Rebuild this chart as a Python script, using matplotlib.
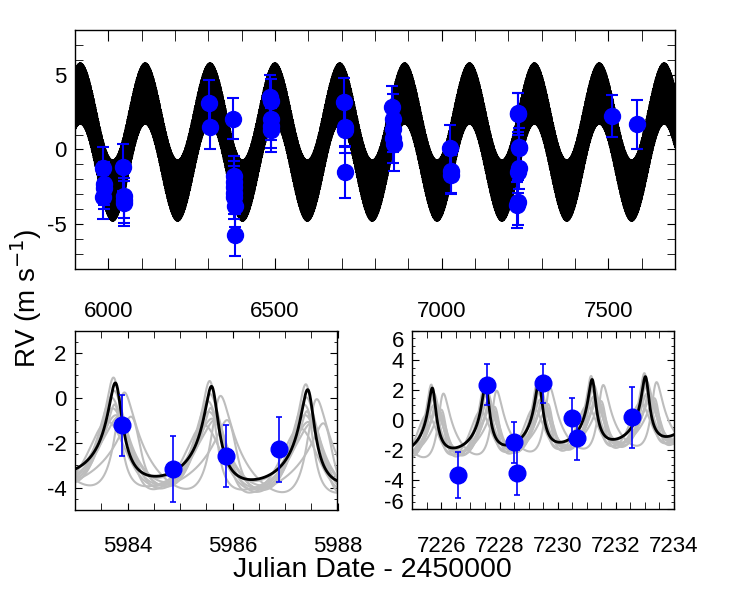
# RV fit of two signals: full time series plus two zoomed nights
import numpy as np
import matplotlib.pyplot as plt
from matplotlib.ticker import MultipleLocator

plt.rcParams['font.family'] = ['Liberation Sans', 'DejaVu Sans']
plt.rcParams['axes.unicode_minus'] = False

# observations (JD - 2450000, RV in m/s, error)
jd_a = [5983.89, 5984.87, 5985.88, 5986.89]
rv_a = [-1.21, -3.19, -2.59, -2.30]
err_a = [1.36, 1.47, 1.39, 1.43]

jd_b = [7226.56, 7227.56, 7228.51, 7228.60, 7229.51, 7230.50, 7230.65, 7232.55]
rv_b = [-3.71, 2.38, -1.51, -3.53, 2.47, 0.11, -1.22, 0.18]
err_b = [1.53, 1.38, 1.37, 1.50, 1.31, 1.35, 1.45, 2.05]

jd_other = [6044.8, 6045.8, 6046.8, 6047.8,
            6301.7, 6303.7,
            6375.1, 6376.0, 6376.6, 6377.2, 6377.8, 6378.4, 6379.0, 6379.6,
            6486.0, 6486.8, 6487.6, 6488.4, 6489.2,
            6708.0, 6709.0, 6710.0, 6711.0,
            6852.0, 6853.0, 6854.0, 6855.0, 6856.0,
            7025.5, 7026.5, 7027.5,
            7510.5, 7586.0]
rv_other = [-1.2, -3.1, -3.4, -3.6,
            3.13, 1.52,
            2.06, -1.8, -2.2, -2.5, -2.9, -3.2, -3.8, -5.7,
            3.53, 3.25, 2.06, 1.57, 1.30,
            3.18, 1.52, 1.28, -1.52,
            2.86, 2.01, 1.34, 0.78, 0.34,
            0.11, -1.45, -1.68,
            2.24, 1.68]
err_other = [1.6, 1.5, 1.5, 1.5,
             1.5, 1.5,
             1.38, 1.35, 1.4, 1.4, 1.4, 1.45, 1.4, 1.4,
             1.45, 1.5, 1.4, 1.45, 1.5,
             1.6, 1.3, 1.5, 1.7,
             1.4, 1.7, 1.5, 1.7, 1.8,
             1.55, 1.45, 1.3,
             1.4, 1.65]

# best fit: long period sinusoid + eccentric short period orbit
gamma = -0.49
P_long, T_long, K_long = 194.6, 5916.0, 3.25
P_short, Tp_short, K_short, e_short, w_short = 1.83174, 5983.79, 2.05, 0.5, 15.0

# posterior samples of the short period orbit (P, Tp, K, e, w, offset)
samp_P = [1.83174, 1.83180, 1.83190, 1.83200, 1.83175, 1.83185, 1.83195, 1.83170, 1.83205, 1.83190]
samp_Tp = [5983.75, 5983.70, 5983.66, 5983.85, 5984.15, 5983.72, 5983.80, 5983.62, 5983.88, 5983.98]
samp_K = [2.2, 1.9, 1.7, 1.6, 1.5, 2.0, 1.8, 1.4, 2.1, 1.6]
samp_e = [0.45, 0.30, 0.25, 0.20, 0.40, 0.35, 0.50, 0.15, 0.40, 0.30]
samp_w = [10, 0, -20, 20, 40, -10, 30, 0, -30, 50]
samp_off = [0.1, -0.1, -0.2, -0.3, -0.4, 0.0, -0.5, -0.3, -0.2, -0.35]


def kepler_rv(t, P, tp, K, e, w):
    M = 2 * np.pi * (t - tp) / P
    E = M.copy()
    for i in range(40):
        E = E - (E - e * np.sin(E) - M) / (1 - e * np.cos(E))
    nu = 2 * np.arctan2(np.sqrt(1 + e) * np.sin(E / 2), np.sqrt(1 - e) * np.cos(E / 2))
    w = np.radians(w)
    return K * (np.cos(nu + w) + e * np.cos(w))


def long_rv(t):
    return K_long * np.cos(2 * np.pi * (t - T_long) / P_long)


def model(t):
    return gamma + long_rv(t) + kepler_rv(t, P_short, Tp_short, K_short, e_short, w_short)


def style(ax, xlen, ylen, xpad):
    ax.tick_params(which='both', direction='in', top=True, right=True, labelsize=16)
    ax.tick_params(axis='x', which='both', length=xlen, pad=xpad)
    ax.tick_params(axis='y', which='both', length=ylen, pad=6)
    for s in ax.spines.values():
        s.set_linewidth(1.0)


def points(ax, x, y, err, ms, cap, elw):
    ax.errorbar(x, y, yerr=err, fmt='o', color='blue', ecolor='blue', ms=ms,
                capsize=cap, elinewidth=elw, capthick=elw, zorder=5)


fig = plt.figure(figsize=(7.5, 6), dpi=100)

# full time series
ax1 = fig.add_axes([0.1, 0.5517, 0.8, 0.3983])
tt = np.linspace(5900, 7700, 300000)
ax1.plot(tt, model(tt), color='black', lw=1.0)
points(ax1, jd_a + jd_b + jd_other, rv_a + rv_b + rv_other, err_a + err_b + err_other, 11.5, 4.5, 1.5)
ax1.set_xlim(5900, 7700)
ax1.set_ylim(-8, 8)
ax1.xaxis.set_major_locator(MultipleLocator(500))
ax1.xaxis.set_minor_locator(MultipleLocator(100))
ax1.yaxis.set_major_locator(MultipleLocator(5))
ax1.yaxis.set_minor_locator(MultipleLocator(1))
style(ax1, 8, 6, 23)

# zoom on the first night block
ax2 = fig.add_axes([0.1, 0.15, 0.35, 0.299])
ta = np.linspace(5983, 5988, 2000)
for i in range(len(samp_P)):
    rv = gamma + samp_off[i] + long_rv(ta) + kepler_rv(ta, samp_P[i], samp_Tp[i], samp_K[i], samp_e[i], samp_w[i])
    ax2.plot(ta, rv, color='#bdbdbd', lw=1.5)
ax2.plot(ta, model(ta), color='black', lw=2)
points(ax2, jd_a, rv_a, err_a, 12, 2.5, 1.2)
ax2.set_xlim(5983, 5988)
ax2.set_ylim(-5, 3)
ax2.xaxis.set_major_locator(MultipleLocator(2))
ax2.xaxis.set_minor_locator(MultipleLocator(0.5))
ax2.yaxis.set_major_locator(MultipleLocator(2))
ax2.yaxis.set_minor_locator(MultipleLocator(0.5))
style(ax2, 5, 5, 19)
ax2.tick_params(axis='y', which='minor', length=2.5)

# zoom on the second block
ax3 = fig.add_axes([0.5497, 0.151, 0.349, 0.298])
tb = np.linspace(7225, 7234, 3000)
for i in range(len(samp_P)):
    rv = gamma + samp_off[i] + long_rv(tb) + kepler_rv(tb, samp_P[i], samp_Tp[i], samp_K[i], samp_e[i], samp_w[i])
    ax3.plot(tb, rv, color='#bdbdbd', lw=1.5)
ax3.plot(tb, model(tb), color='black', lw=2)
points(ax3, jd_b, rv_b, err_b, 12, 2.5, 1.2)
ax3.set_xlim(7225, 7234)
ax3.set_ylim(-6, 6)
ax3.set_xticks([7226, 7228, 7230, 7232, 7234])
ax3.xaxis.set_minor_locator(MultipleLocator(0.5))
ax3.set_yticks([-6, -4, -2, 0, 2, 4, 6])
ax3.yaxis.set_minor_locator(MultipleLocator(0.5))
style(ax3, 5, 5, 19)
ax3.tick_params(axis='y', which='minor', length=2.5)
ylabs = ax3.get_yticklabels()
ylabs[0].set_va('baseline')
ylabs[-1].set_va('top')

fig.text(0.035, 0.503, 'RV (m s$^{-1}$)', rotation=90, ha='center', va='center', fontsize=20)
fig.text(0.497, 0.05, 'Julian Date - 2450000', ha='center', va='center', fontsize=20.5)

fig.savefig('out.png', dpi=100)
